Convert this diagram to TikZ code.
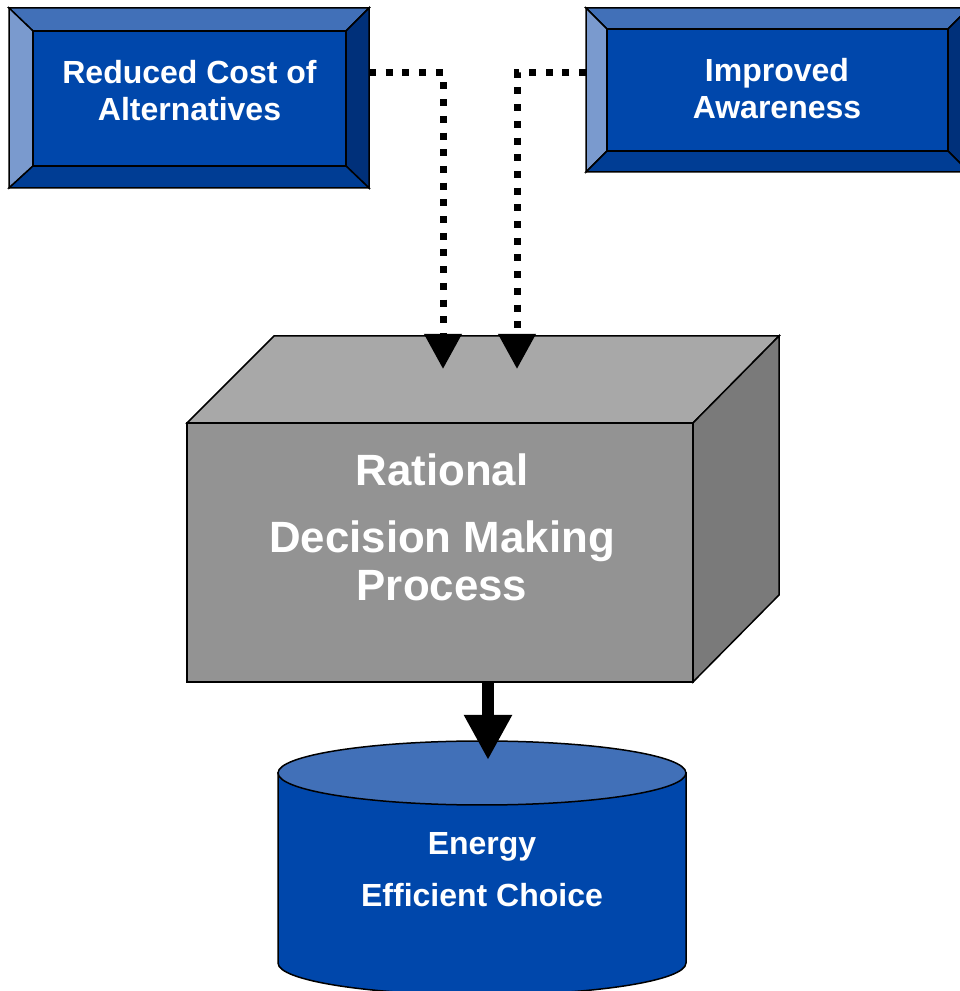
\documentclass[tikz,border=0pt]{standalone}
\usepackage{fontspec}
\setmainfont{Liberation Sans}
\usetikzlibrary{calc,arrows.meta}

\definecolor{bevTop}{RGB}{65,112,184}
\definecolor{bevLeft}{RGB}{122,154,206}
\definecolor{bevFace}{RGB}{0,71,171}
\definecolor{bevRight}{RGB}{0,48,122}
\definecolor{bevBottom}{RGB}{0,61,148}
\definecolor{cubeTop}{RGB}{168,168,168}
\definecolor{cubeFront}{RGB}{147,147,147}
\definecolor{cubeSide}{RGB}{122,122,122}
\definecolor{cylTop}{RGB}{65,112,184}
\definecolor{cylBody}{RGB}{0,71,171}

% Bevelled panel: #1 node, #2 left, #3 right, #4 top, #5 bottom bevel widths
\newcommand\bevelfaces[5]{%
  \coordinate (#1-iNW) at ($(#1.north west)+(#2,-#4)$);
  \coordinate (#1-iNE) at ($(#1.north east)+(-#3,-#4)$);
  \coordinate (#1-iSE) at ($(#1.south east)+(-#3,#5)$);
  \coordinate (#1-iSW) at ($(#1.south west)+(#2,#5)$);
  \draw[facet, fill=bevTop]    (#1.north west) -- (#1.north east) -- (#1-iNE) -- (#1-iNW) -- cycle;
  \draw[facet, fill=bevLeft]   (#1.north west) -- (#1-iNW) -- (#1-iSW) -- (#1.south west) -- cycle;
  \draw[facet, fill=bevRight]  (#1.north east) -- (#1.south east) -- (#1-iSE) -- (#1-iNE) -- cycle;
  \draw[facet, fill=bevBottom] (#1.south west) -- (#1-iSW) -- (#1-iSE) -- (#1.south east) -- cycle;
  \draw[facet, fill=bevFace]   (#1-iNW) -- (#1-iNE) -- (#1-iSE) -- (#1-iSW) -- cycle;
}

\tikzset{
  facet/.style={draw=black, line width=1.5pt, line join=miter},
  panel/.style={rectangle, inner sep=0pt, outer sep=0pt},
  whitetext/.style={text=white, inner sep=0pt, anchor=base},
  dotconn/.style={line width=7pt, dash pattern=on 7pt off 9.7pt,
    -{Triangle[width=36pt,length=35pt]}},
  bigarrow/.style={line width=12pt, -{Triangle[width=45pt,length=45pt]}},
}

\begin{document}
\begin{tikzpicture}[x=1pt, y=1pt]
\useasboundingbox (0,0) rectangle (959,991);

% --- upper left panel
\node[panel, minimum width=360pt, minimum height=180pt] (cost) at (189,893) {};
\bevelfaces{cost}{24}{23}{23}{22}
\node[whitetext, font=\bfseries\fontsize{32}{37}\selectfont] (costlabel) at (189.5,907)
  {\begin{tabular}[t]{@{}c@{}}Reduced Cost of\\Alternatives\end{tabular}};

% --- upper right panel
\node[panel, minimum width=383pt, minimum height=164pt] (aware) at (777.5,901) {};
\bevelfaces{aware}{21}{21}{21}{21}
\node[whitetext, font=\bfseries\fontsize{32}{37}\selectfont] (awarelabel) at (777,909)
  {\begin{tabular}[t]{@{}c@{}}Improved\\Awareness\end{tabular}};

% --- decision block
\node[panel, draw=black, line width=1.5pt, fill=cubeFront,
      minimum width=506pt, minimum height=259pt] (dmp) at (440,438.5) {};
\draw[facet, fill=cubeTop] (dmp.north west) -- ++(87,87) -- ($(dmp.north east)+(86,87)$)
  -- (dmp.north east) -- cycle;
\draw[facet, fill=cubeSide] (dmp.north east) -- ++(86,87) -- ($(dmp.south east)+(86,87)$)
  -- (dmp.south east) -- cycle;
\node[whitetext, font=\bfseries\fontsize{43.8}{48}\selectfont] (dmplabel) at (442,505)
  {\begin{tabular}[t]{@{}c@{}}Rational\\[19pt]Decision Making\\Process\end{tabular}};

% --- outcome cylinder
\draw[facet, fill=cylBody] (278,218) -- (278,28)
  arc[start angle=180, end angle=360, x radius=204, y radius=32] -- (686,218) -- cycle;
\draw[facet, fill=cylTop] (482,218) ellipse[x radius=204, y radius=32];
\node[panel, minimum width=408pt, minimum height=254pt] (choice) at (482,123) {};
\node[whitetext, font=\bfseries\fontsize{32}{52}\selectfont] (choicelabel) at (482,136)
  {\begin{tabular}[t]{@{}c@{}}Energy\\Efficient Choice\end{tabular}};

% --- connectors
\coordinate (inL) at (443,622);
\coordinate (inR) at (517,622);
\coordinate (choicetip) at (488,231);
\draw[dotconn] ([yshift=25pt]cost.east) -| (inL);
\draw[dotconn] ([yshift=17pt]aware.west) -| (inR);
\draw[bigarrow] (dmp.south -| choicetip) -- (choicetip);
\end{tikzpicture}
\end{document}
